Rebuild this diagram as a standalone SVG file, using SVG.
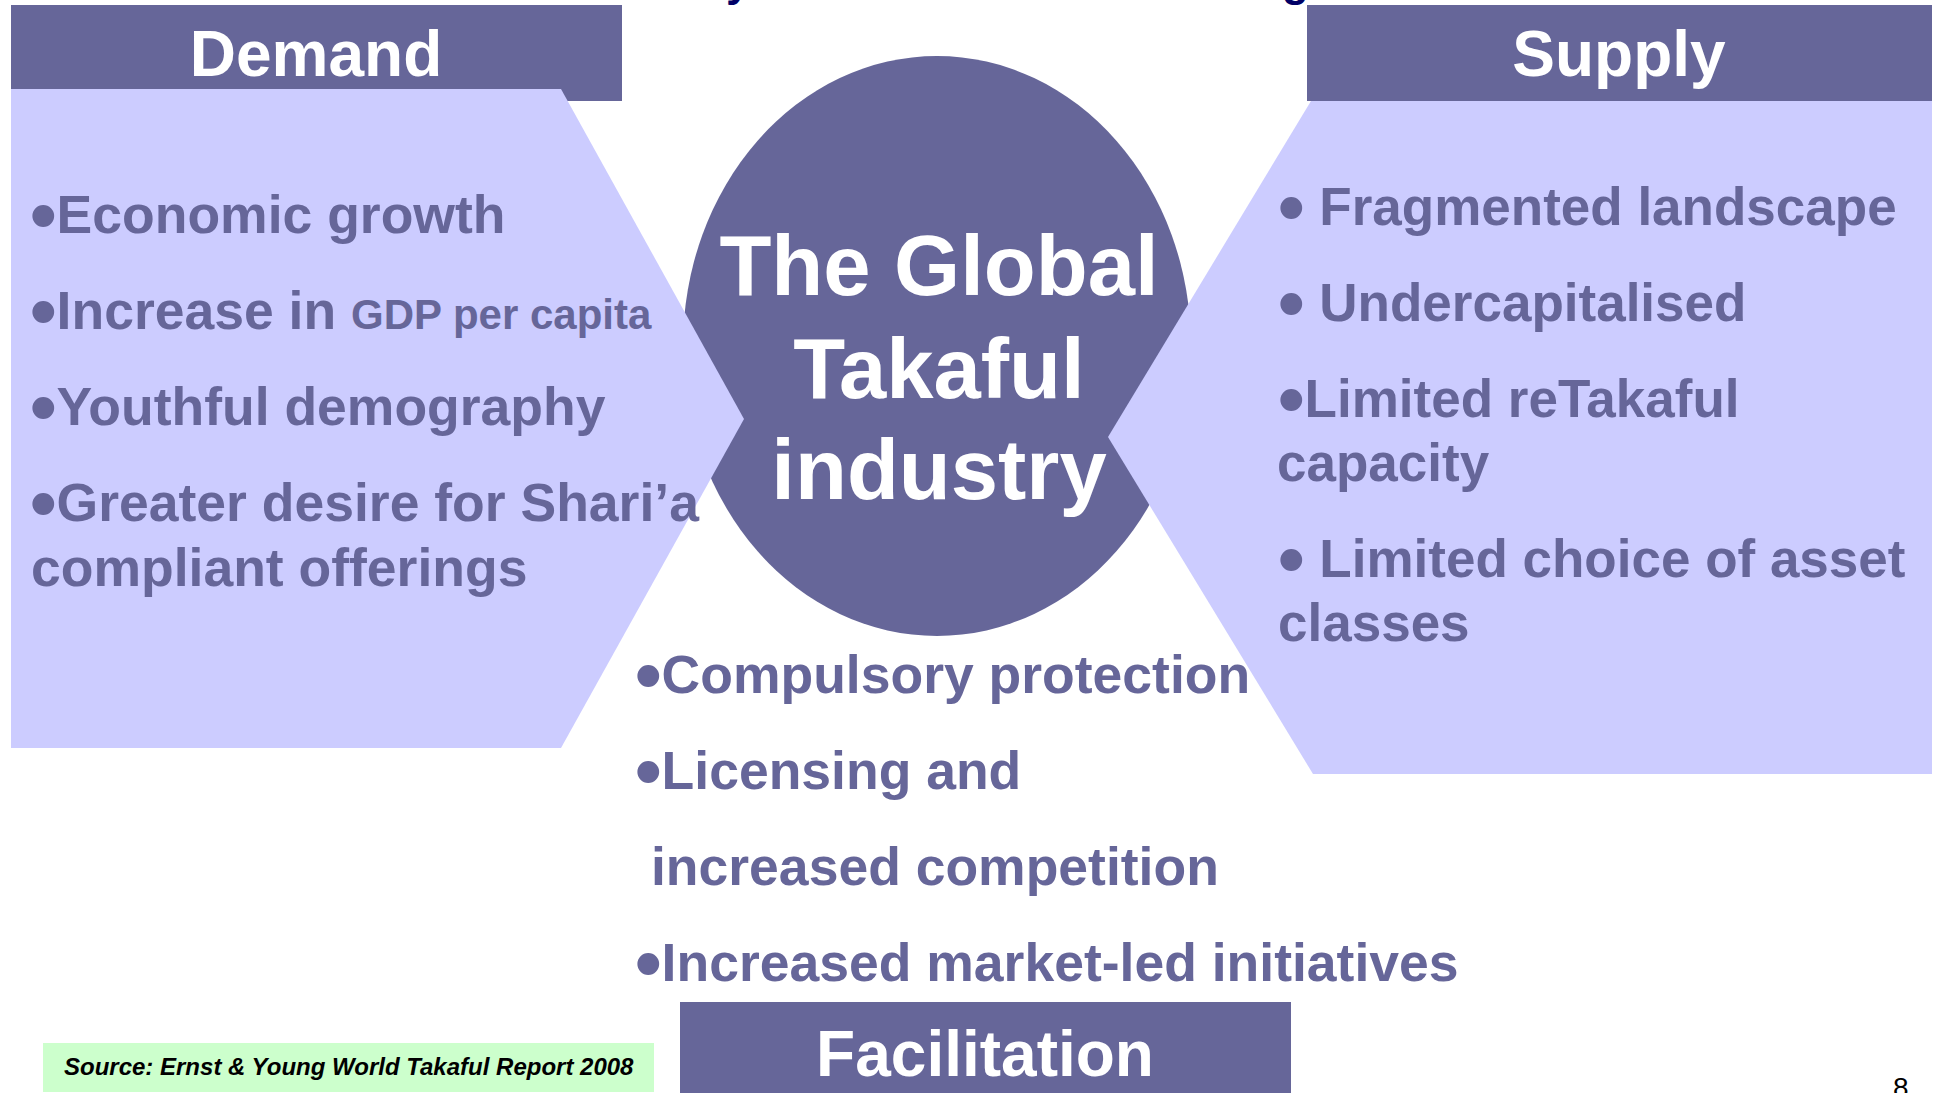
<svg xmlns="http://www.w3.org/2000/svg" width="1934" height="1093" viewBox="0 0 1934 1093">
<style>
.dark{fill:#666699}
.light{fill:#CCCCFF}
.hdr{font-family:"Liberation Sans",Arial,sans-serif;font-weight:bold;font-size:64px;fill:#FFFFFF;text-anchor:middle}
.ctr{font-family:"Liberation Sans",Arial,sans-serif;font-weight:bold;font-size:85px;fill:#FFFFFF;text-anchor:middle}
.t{font-family:"Liberation Sans",Arial,sans-serif;font-weight:bold;font-size:53px;fill:#666699}
.w{font-size:53.5px}
.b{font-size:76px}
.sm{font-size:42px}
.ttl{font-family:"Liberation Sans",Arial,sans-serif;font-weight:bold;font-size:44px;fill:#000066}
</style>
<rect width="1934" height="1093" fill="#FFFFFF"/>
<g id="title">
<text class="ttl" x="726" y="-4">y</text>
<text class="ttl" x="1282" y="-4">g</text>
</g>
<g id="demand-header">
<rect class="dark" x="11" y="5" width="611" height="96"/>
</g>
<g id="supply-header">
<rect class="dark" x="1307" y="5" width="625" height="96"/>
</g>
<g id="center">
<ellipse class="dark" cx="937" cy="346" rx="254" ry="290"/>
</g>
<g id="demand">
<polygon class="light" points="11,89 561,89 744,419 561,748 11,748"/>
<text class="hdr" x="316" y="76">Demand</text>
<text class="t w" x="30" y="233"><tspan class="b" dy="8">•</tspan><tspan dy="-8">Economic growth</tspan></text>
<text class="t w" x="30" y="329"><tspan class="b" dy="8">•</tspan><tspan dy="-8">Increase in </tspan><tspan class="sm">GDP per capita</tspan></text>
<text class="t w" x="30" y="425"><tspan class="b" dy="8">•</tspan><tspan dy="-8">Youthful demography</tspan></text>
<text class="t w" x="30" y="521"><tspan class="b" dy="8">•</tspan><tspan dy="-8">Greater desire for Shari’a</tspan></text>
<text class="t w" x="31" y="586">compliant offerings</text>
</g>
<g id="supply">
<polygon class="light" points="1311,101 1932,101 1932,774 1313,774 1108,437"/>
<text class="hdr" x="1619" y="76">Supply</text>
<text class="t" x="1278" y="225"><tspan class="b" dy="8">•</tspan><tspan dy="-8"> Fragmented landscape</tspan></text>
<text class="t" x="1278" y="321"><tspan class="b" dy="8">•</tspan><tspan dy="-8"> Undercapitalised</tspan></text>
<text class="t" x="1278" y="417"><tspan class="b" dy="8">•</tspan><tspan dy="-8">Limited reTakaful</tspan></text>
<text class="t" x="1277" y="481">capacity</text>
<text class="t" x="1278" y="577"><tspan class="b" dy="8">•</tspan><tspan dy="-8"> Limited choice of asset</tspan></text>
<text class="t" x="1278" y="641">classes</text>
</g>
<g id="center-label">
<text class="ctr" x="939" y="295">The Global</text>
<text class="ctr" x="939" y="398">Takaful</text>
<text class="ctr" x="939" y="499">industry</text>
</g>
<g id="facilitation">
<text class="t w" x="635" y="693"><tspan class="b" dy="8">•</tspan><tspan dy="-8">Compulsory protection</tspan></text>
<text class="t w" x="635" y="789"><tspan class="b" dy="8">•</tspan><tspan dy="-8">Licensing and</tspan></text>
<text class="t w" x="651" y="885">increased competition</text>
<text class="t w" x="635" y="981"><tspan class="b" dy="8">•</tspan><tspan dy="-8">Increased market-led initiatives</tspan></text>
<rect class="dark" x="680" y="1002" width="611" height="91"/>
<text class="hdr" x="985" y="1076">Facilitation</text>
</g>
<g id="source">
<rect x="43" y="1043" width="611" height="49" fill="#CCFFCC"/>
<text x="64" y="1075" font-family="'Liberation Sans',Arial,sans-serif" font-weight="bold" font-style="italic" font-size="24" fill="#000000">Source: Ernst &amp; Young World Takaful Report 2008</text>
</g>
<g id="page-number">
<text x="1893" y="1097" font-family="'Liberation Sans',Arial,sans-serif" font-size="28" fill="#000000">8</text>
</g>
</svg>
